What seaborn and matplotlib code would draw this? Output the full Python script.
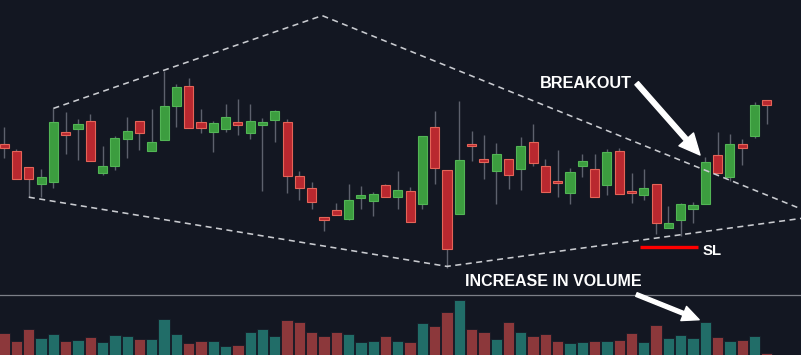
import numpy as np
import pandas as pd
import seaborn as sns
from matplotlib import pyplot as plt

# candles (arbitrary price units)
opens = [113.9, 112.2, 108.2, 104.1, 104.6, 117.1, 117.8, 119.8, 106.8, 108.5,
         115.2, 119.8, 112.3, 115.0, 123.6, 128.5, 119.6, 116.9, 117.8, 119.5,
         116.8, 118.8, 120.0, 119.6, 106.0, 103.1, 95.8, 97.5, 95.3, 100.4,
         99.8, 103.8, 100.8, 102.2, 99.0, 118.2, 107.5, 96.6, 113.9, 110.2,
         107.2, 110.2, 107.7, 114.5, 108.5, 104.8, 101.8, 108.5, 107.7, 103.8,
         112.2, 102.2, 101.3, 104.1, 93.1, 94.9, 97.8, 99.0, 111.2, 105.7,
         114.0, 115.9, 125.0]
highs = [118.3, 112.7, 108.2, 107.7, 122.9, 122.0, 120.2, 121.4, 113.5, 115.9,
         120.8, 119.8, 122.8, 132.3, 129.0, 130.4, 122.8, 119.8, 123.9, 125.3,
         124.0, 120.4, 122.5, 120.2, 107.2, 104.5, 95.8, 99.2, 104.1, 103.5,
         102.0, 104.0, 107.3, 103.2, 115.9, 122.2, 107.5, 124.8, 117.3, 116.2,
         114.2, 110.2, 115.7, 118.9, 110.2, 112.5, 108.1, 111.5, 111.5, 112.8,
         113.0, 106.7, 107.7, 104.1, 98.6, 99.2, 99.6, 110.7, 117.0, 116.5,
         115.3, 124.5, 125.0]
lows = [110.4, 105.2, 100.7, 100.7, 103.1, 111.4, 110.0, 109.8, 106.2, 107.5,
        110.4, 112.5, 112.3, 115.0, 118.3, 118.0, 116.7, 112.1, 117.1, 116.2,
        115.3, 102.3, 114.6, 101.7, 100.0, 97.8, 92.3, 96.2, 95.0, 97.8,
        96.0, 100.7, 97.8, 94.6, 97.8, 104.0, 83.1, 96.6, 109.8, 105.2,
        99.1, 102.7, 102.5, 108.5, 102.0, 100.8, 99.1, 105.8, 100.7, 101.2,
        101.4, 99.2, 100.0, 91.4, 93.1, 91.0, 94.2, 99.0, 106.7, 104.8,
        108.7, 115.6, 118.9]
closes = [113.1, 105.2, 105.2, 105.8, 119.5, 116.2, 119.1, 109.8, 108.6, 115.4,
          117.2, 116.8, 114.4, 123.4, 128.3, 118.0, 118.0, 119.3, 120.8, 118.7,
          119.8, 119.6, 122.2, 106.1, 102.9, 99.5, 94.9, 96.2, 99.9, 101.2,
          101.6, 100.7, 102.5, 94.6, 115.9, 108.1, 87.8, 109.9, 113.5, 109.4,
          111.5, 106.2, 113.4, 109.3, 102.0, 104.3, 107.1, 109.8, 100.7, 112.0,
          101.4, 101.7, 103.1, 94.2, 94.3, 99.0, 98.7, 109.6, 106.7, 113.9,
          113.1, 123.7, 123.7]
volumes = [217, 140, 253, 173, 213, 140, 153, 177, 127, 203, 190, 163, 160, 357,
           213, 120, 137, 140, 93, 100, 233, 257, 193, 347, 330, 233, 193, 230,
           213, 130, 137, 190, 143, 127, 313, 287, 430, 543, 260, 233, 163, 327,
           230, 187, 207, 140, 123, 130, 140, 140, 150, 217, 133, 297, 173, 200,
           173, 323, 183, 140, 147, 193, 20]

# diamond pattern trendlines (candle index, price)
upper_x = [4.0, 25.85, 64.8]
upper_y = [122.9, 146.1, 97.75]
lower_x = [2.0, 36.0, 64.8]
lower_y = [100.7, 83.4, 95.4]

stop_loss = 88.3
sl_from, sl_to = 51.7, 56.4

bg = "#131722"
sns.set_theme(style="dark", rc={"axes.facecolor": bg, "figure.facecolor": bg})
plt.rcParams["font.family"] = ["Liberation Sans", "DejaVu Sans"]

df = pd.DataFrame({"idx": np.arange(len(opens)), "open": opens, "high": highs,
                   "low": lows, "close": closes, "volume": volumes})
df["dir"] = np.where(df["close"] >= df["open"], "up", "down")

fig = plt.figure(figsize=(8.01, 3.55), dpi=100)
ax = fig.add_axes([0, 61 / 355, 1, 294 / 355])
axv = fig.add_axes([0, 0, 1, 60.5 / 355])

# wicks
ax.vlines(df["idx"], df["low"], df["high"], color="#5d616d", linewidth=1.0, zorder=1)
# bodies
up = df[df["dir"] == "up"]
dn = df[df["dir"] == "down"]
for part, fc, ec in [(up, "#3c9d3f", "#52b555"), (dn, "#b9282f", "#e56458")]:
    bottom = part[["open", "close"]].min(axis=1)
    height = (part["close"] - part["open"]).abs().clip(lower=0.35)
    ax.bar(part["idx"], height, bottom=bottom, width=0.74, color=fc,
           edgecolor=ec, linewidth=0.8, zorder=2)

dash = dict(color="#c9cbd0", linewidth=1.15, dashes=(3.8, 2.8), zorder=3)
ax.plot(upper_x, upper_y, **dash)
ax.plot(lower_x, lower_y, **dash)

ax.plot([sl_from, sl_to], [stop_loss, stop_loss], color="#ff0000", linewidth=2.4,
        solid_capstyle="butt", zorder=4)

txt = dict(color="white", fontweight="bold", ha="left", va="baseline", zorder=5)
ax.text(43.56, 127.9, "BREAKOUT", fontsize=11.7, **txt)
ax.text(37.46, 78.6, "INCREASE IN VOLUME", fontsize=11.5, **txt)
ax.text(56.8, 86.25, "SL", fontsize=10.7, **txt)

ax.annotate("", xy=(56.57, 111.25), xytext=(51.42, 129.2),
            arrowprops=dict(facecolor="white", edgecolor="white", width=3.4,
                            headwidth=14, headlength=15, shrink=0))

ax.set_xlim(-0.341, 64.78)
ax.set_ylim(76.5, 150)
ax.set_axis_off()

# volume
sns.barplot(data=df, x="idx", y="volume", hue="dir", native_scale=True,
            palette={"up": "#216d68", "down": "#8c383b"}, width=0.92,
            edgecolor="#161b26", linewidth=0.6, dodge=False, legend=False,
            saturation=1, ax=axv)
axv.set_xlim(-0.341, 64.78)
axv.set_ylim(0, 600)
axv.set_xticks([])
axv.set_yticks([])
axv.set_xlabel("")
axv.set_ylabel("")
for s in ["left", "right", "bottom"]:
    axv.spines[s].set_visible(False)
axv.spines["top"].set_visible(True)
axv.spines["top"].set_color("#7c7f88")
axv.spines["top"].set_linewidth(0.9)

axv.annotate("", xy=(56.5, 350), xytext=(51.4, 600), annotation_clip=False,
             arrowprops=dict(facecolor="white", edgecolor="white", width=2.8,
                             headwidth=11, headlength=12, shrink=0))

fig.savefig("out.png", dpi=100, facecolor=bg)
